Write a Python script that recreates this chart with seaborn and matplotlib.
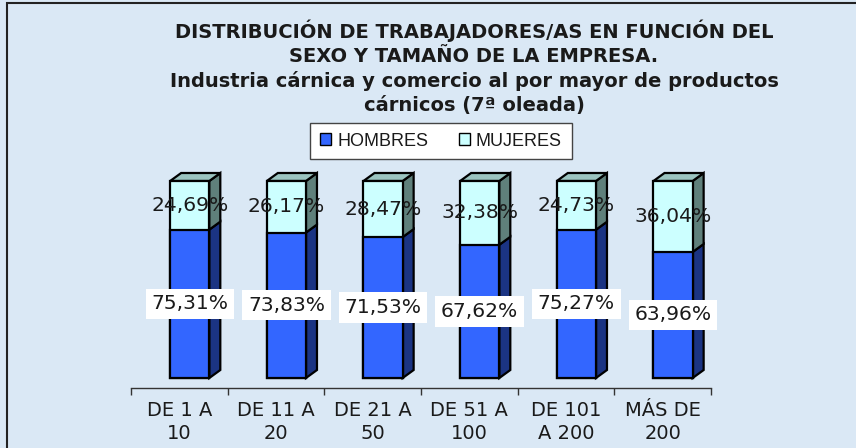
import matplotlib
matplotlib.use("Agg")
import matplotlib.pyplot as plt
import matplotlib.transforms as mtransforms
from matplotlib.patches import Polygon, Patch, Rectangle
import seaborn as sns
import pandas as pd

# ---- data ----
categories = ["DE 1 A\n10", "DE 11 A\n20", "DE 21 A\n50", "DE 51 A\n100", "DE 101\nA 200", "MÁS DE\n200"]
hombres = [75.31, 73.83, 71.53, 67.62, 75.27, 63.96]
mujeres = [24.69, 26.17, 28.47, 32.38, 24.73, 36.04]
series_names = ["HOMBRES", "MUJERES"]
title_lines = [
    "DISTRIBUCIÓN DE TRABAJADORES/AS EN FUNCIÓN DEL",
    "SEXO Y TAMAÑO DE LA EMPRESA.",
    "Industria cárnica y comercio al por mayor de productos",
    "cárnicos (7ª oleada)",
]

# ---- styles ----
BG = "#dae8f5"
BLUE_FRONT, BLUE_SIDE = "#3366ff", "#1b3483"
CYAN_FRONT, CYAN_SIDE, CYAN_TOP = "#ccffff", "#5f807b", "#9bc4c0"
TXT = "#1a1a1a"

sns.set_theme(style="white")
plt.rcParams["font.family"] = ["DejaVu Sans"]

W, H, DPI = 856, 448, 100
fig = plt.figure(figsize=(W / DPI, H / DPI), dpi=DPI, facecolor=BG)

# border (top & left visible)
fig.add_artist(Rectangle((7 / W, -0.1), 1.2, 1.1 - 3 / H, transform=fig.transFigure,
                         fill=False, edgecolor="#222222", linewidth=1.5))

ax = fig.add_axes([131 / W, (H - 388) / H, 580 / W, 197 / H])
ax.set_facecolor("none")

df = pd.DataFrame({"cat": categories, "hombres": hombres, "mujeres": mujeres})
df["total"] = df["hombres"] + df["mujeres"]

BAR_W = 0.405
sns.barplot(data=df, x="cat", y="total", color=CYAN_FRONT, saturation=1, width=BAR_W,
            edgecolor="black", linewidth=1.6, ax=ax, zorder=2)
sns.barplot(data=df, x="cat", y="hombres", color=BLUE_FRONT, saturation=1, width=BAR_W,
            edgecolor="black", linewidth=1.6, ax=ax, zorder=3)

ax.set_xlim(-0.5, len(categories) - 0.5)
ax.set_ylim(0, 100)

# 3D setback of bars relative to the floor front edge
offset = mtransforms.ScaledTranslation(10.4 / DPI, 10 / DPI, fig.dpi_scale_trans)
tr = ax.transData + offset
for p in ax.patches:
    p.set_transform(tr)

# depth of bars in data units
p0 = ax.transData.transform((0, 0))
p1 = ax.transData.transform((1, 100))
ddx = 11 / (p1[0] - p0[0])
ddy = 8 / ((p1[1] - p0[1]) / 100)

patches = list(ax.patches)
for i in range(len(categories)):
    pc = patches[i]
    x0 = pc.get_x()
    x1 = x0 + pc.get_width()
    m = hombres[i]
    t = hombres[i] + mujeres[i]
    polys = [
        ([(x1, 0), (x1, m), (x1 + ddx, m + ddy), (x1 + ddx, ddy)], BLUE_SIDE),
        ([(x1, m), (x1, t), (x1 + ddx, t + ddy), (x1 + ddx, m + ddy)], CYAN_SIDE),
        ([(x0, t), (x1, t), (x1 + ddx, t + ddy), (x0 + ddx, t + ddy)], CYAN_TOP),
    ]
    for verts, col in polys:
        ax.add_patch(Polygon(verts, closed=True, facecolor=col, edgecolor="black",
                             linewidth=1.6, transform=tr, zorder=1.5, clip_on=False))
    xc = x0 + pc.get_width() / 2
    ax.text(xc, m / 2, f"{m:.2f}%".replace(".", ","), transform=tr, ha="center", va="center",
            fontsize=14.6, color=TXT, zorder=5,
            bbox=dict(boxstyle="square,pad=0.28", facecolor="white", edgecolor="none"))
    ax.text(xc, m + mujeres[i] / 2, f"{mujeres[i]:.2f}%".replace(".", ","), transform=tr,
            ha="center", va="center", fontsize=14.6, color=TXT, zorder=5)

for p in ax.patches:
    p.set_clip_on(False)

# axes styling
for s in ["left", "right", "top"]:
    ax.spines[s].set_visible(False)
ax.spines["bottom"].set_color("#333333")
ax.spines["bottom"].set_linewidth(1.0)
ax.set_yticks([])
ax.set_xlabel("")
ax.set_ylabel("")
ax.set_xticks([i - 0.5 for i in range(len(categories) + 1)])
ax.set_xticklabels([])
ax.set_xticks(range(len(categories)), minor=True)
ax.set_xticklabels(categories, minor=True, fontsize=14, color=TXT, linespacing=1.3)
ax.tick_params(axis="x", which="major", direction="out", length=5, width=1, color="#333333", bottom=True)
ax.tick_params(axis="x", which="minor", length=0, pad=9)

# legend
handles = [Patch(facecolor=BLUE_FRONT, edgecolor="black", linewidth=1),
           Patch(facecolor=CYAN_FRONT, edgecolor="black", linewidth=1)]
leg = fig.legend(handles, series_names, loc="center", bbox_to_anchor=(441 / W, 1 - 141 / H),
                 ncol=2, frameon=True, fancybox=False, framealpha=1, facecolor="white",
                 edgecolor="#444444", prop={"family": "Liberation Sans", "size": 13},
                 handlelength=0.6, handleheight=0.6, handletextpad=0.35, columnspacing=1.7,
                 borderpad=0.55, borderaxespad=0)
leg.get_frame().set_linewidth(1.0)
for t in leg.get_texts():
    t.set_color(TXT)

# title
baselines = [37.5, 62.5, 86.5, 110.5]
for line, b in zip(title_lines, baselines):
    fig.text(474 / W, 1 - b / H, line, ha="center", va="baseline", fontsize=14,
             fontweight="bold", color=TXT)

fig.savefig("out.png", dpi=DPI, facecolor=BG)
